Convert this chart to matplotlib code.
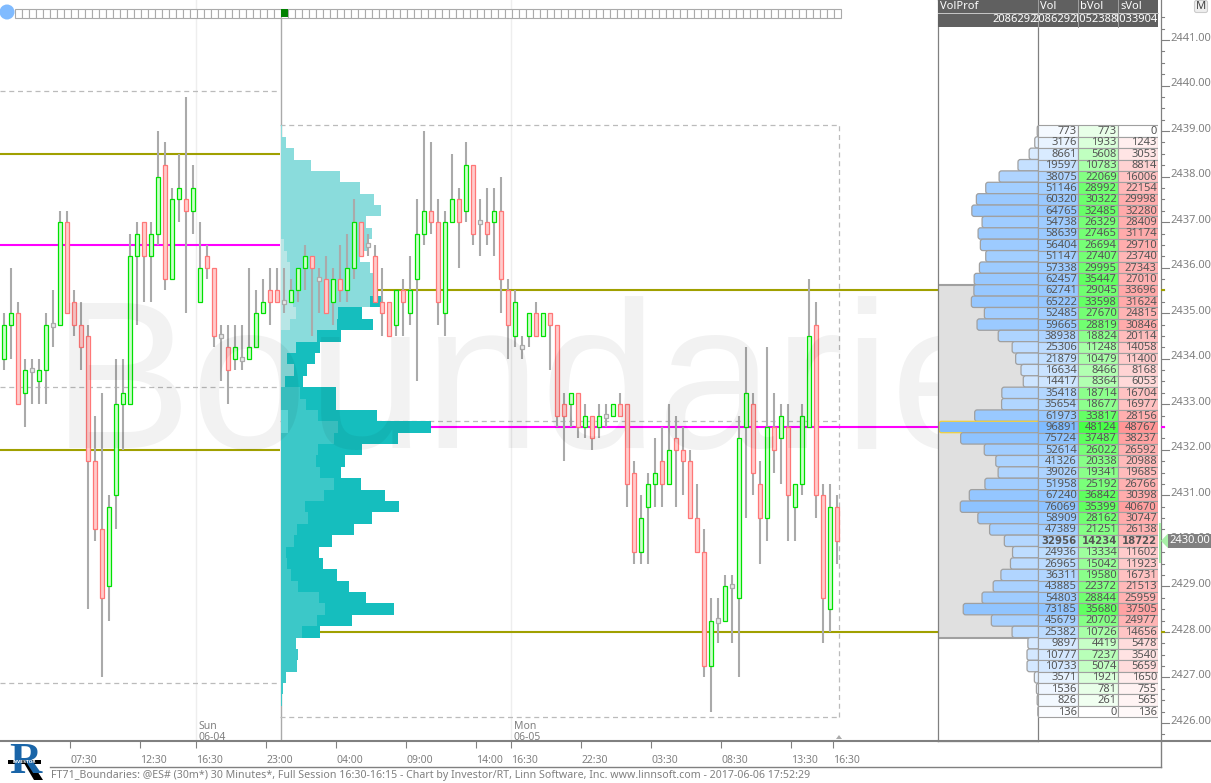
import numpy as np
import matplotlib
matplotlib.use("Agg")
import matplotlib.pyplot as plt
from matplotlib.patches import FancyBboxPatch, Rectangle, Circle, Polygon

plt.rcParams['font.family'] = ['Noto Sans', 'DejaVu Sans']

# candles, one per 30 minutes
opens = [2434, 2434.75, 2435, 2433.25, 2433.75, 2433.5, 2433.75, 2434.75, 2434.75, 2437,
         2435.25, 2434.75, 2434.5, 2431.75, 2430.25, 2429, 2431, 2433, 2433, 2436.25,
         2437, 2436.25, 2436.75, 2438.25, 2435.75, 2437.5, 2437.5, 2437.25, 2435.25, 2436.25,
         2436, 2434.5, 2434.25, 2434, 2434, 2434, 2434.25, 2435, 2435.5, 2435.5,
         2435.25, 2435.25, 2435.5, 2436, 2436.25, 2435.75, 2435.75, 2435.25, 2435.75, 2435.5,
         2436, 2437, 2436.5, 2436.25, 2435.25, 2435.25, 2434.75, 2435.5, 2435, 2435.75,
         2436.75, 2437.25, 2437, 2435, 2437, 2437.5, 2437.25, 2438.25, 2437, 2437,
         2437, 2437.25, 2435.5, 2434.5, 2434.25, 2434.5, 2435, 2434.5, 2435, 2434.75,
         2433, 2433, 2433.25, 2432.5, 2432.75, 2432.5, 2432.75, 2432.75, 2433, 2433,
         2431.5, 2429.75, 2430.75, 2431.25, 2431.75, 2431.25, 2432.25, 2432, 2431.75, 2430.5,
         2429.75, 2427.25, 2428.25, 2428.25, 2429, 2428.75, 2432.5, 2433, 2431.25, 2430.5,
         2432.5, 2432.25, 2432.5, 2430.75, 2431.25, 2432.5, 2434.75, 2431, 2428.5, 2430.75]
highs = [2435, 2436, 2435.25, 2434, 2434, 2434, 2435, 2435.5, 2437.25, 2437.25,
         2435.5, 2435.25, 2434.75, 2432.75, 2433.25, 2431, 2434, 2434, 2436.75, 2437,
         2437, 2437, 2439, 2438.75, 2437.75, 2438.5, 2439.75, 2438.25, 2437, 2436.5,
         2436, 2434.75, 2434.75, 2434.75, 2434.75, 2436, 2435.5, 2435.75, 2436, 2436,
         2436, 2435.75, 2436, 2436.5, 2436.25, 2436, 2436.25, 2436, 2436.5, 2436.75,
         2437.5, 2437, 2436.75, 2436.5, 2436, 2435.25, 2435.5, 2435.75, 2436.25, 2437.5,
         2439, 2438.75, 2437.5, 2437.25, 2438.5, 2437.75, 2438.75, 2438.25, 2437.5, 2437.75,
         2437.75, 2438, 2435.75, 2435.5, 2434.5, 2435, 2435.25, 2435, 2435, 2434.75,
         2433.25, 2433.25, 2433.25, 2433, 2432.75, 2433, 2433, 2433, 2433.25, 2433,
         2431.75, 2431, 2431.5, 2432.25, 2432.5, 2433, 2432.75, 2432.5, 2432, 2431.25,
         2430.25, 2428.75, 2428.75, 2429.25, 2429.25, 2432.75, 2434.25, 2433.25, 2431.75, 2434.25,
         2433.25, 2433, 2433, 2431.25, 2433, 2435.75, 2435.25, 2431.25, 2431.25, 2431]
lows = [2433.75, 2434, 2433, 2432.5, 2433, 2433, 2433, 2434.25, 2434.75, 2435,
        2434.5, 2433.75, 2428.5, 2430, 2427, 2428.25, 2430.25, 2432, 2433, 2434.75,
        2435.25, 2435.25, 2436.5, 2435.5, 2435.75, 2437, 2435, 2436.75, 2435.25, 2435.75,
        2434.25, 2433.5, 2433, 2433.75, 2433.75, 2434, 2434.25, 2435, 2434.75, 2435.25,
        2435, 2435.25, 2435.25, 2435.5, 2434.5, 2435, 2435, 2434.75, 2435.25, 2435.25,
        2435.75, 2436.25, 2436.25, 2435.25, 2434.5, 2434.5, 2434.5, 2434.5, 2434.75, 2433.5,
        2436.5, 2436.75, 2434.75, 2434.5, 2437, 2436, 2437, 2436.5, 2436.25, 2436.5,
        2436.25, 2435, 2434, 2434.25, 2434, 2434.25, 2434.5, 2434.5, 2433.75, 2432.5,
        2431.75, 2432.5, 2432.25, 2432.25, 2432, 2432.25, 2432.5, 2432.75, 2432.75, 2430.75,
        2429.5, 2429.5, 2429.5, 2430.75, 2430.75, 2431.25, 2430.75, 2431, 2430.5, 2429.75,
        2427, 2426.25, 2427.75, 2428.25, 2427.75, 2427, 2430.5, 2431, 2429.5, 2430,
        2431.5, 2431.25, 2430, 2430, 2431, 2432.5, 2430.5, 2427.75, 2428, 2429.5]
closes = [2434.75, 2435, 2433, 2433.75, 2433.75, 2433.75, 2434.75, 2434.75, 2437, 2435,
          2434.75, 2434.25, 2431.75, 2430.25, 2428.75, 2430.75, 2433, 2433.25, 2436.25, 2436.75,
          2436.25, 2436.75, 2438, 2435.75, 2437.5, 2437.75, 2437.25, 2437.75, 2436, 2436,
          2434.5, 2434.5, 2433.75, 2434.25, 2434, 2434.25, 2435, 2435.25, 2435.25, 2435.25,
          2435.25, 2435.5, 2436, 2436.25, 2436, 2435.75, 2435, 2435.75, 2435.5, 2436,
          2437, 2436.25, 2436.5, 2435.25, 2435, 2434.5, 2435.5, 2435.25, 2435.5, 2436.75,
          2437.25, 2437, 2435.25, 2437, 2437.5, 2437, 2438.25, 2436.75, 2437, 2436.75,
          2437.25, 2435.75, 2434.75, 2435.25, 2434.25, 2435, 2434.5, 2435, 2434.75, 2432.75,
          2432.75, 2433.25, 2432.5, 2432.75, 2432.25, 2432.75, 2432.75, 2433, 2432.75, 2431.25,
          2429.75, 2430.5, 2431.25, 2431.5, 2431.25, 2432, 2432, 2431.75, 2430.5, 2429.75,
          2427.25, 2428.25, 2428.25, 2429, 2429, 2432.25, 2433.25, 2431.5, 2430.5, 2432.5,
          2432, 2432.75, 2431, 2431.25, 2432.75, 2434.5, 2431, 2428.75, 2430.75, 2430]

# volume profile rows, top row first
vol = [773, 3176, 8661, 19597, 38075, 51146, 60320, 64765, 54738, 58639, 56404, 51147, 57338,
       62457, 62741, 65222, 52485, 59665, 38938, 25306, 21879, 16634, 14417, 35418, 35654, 61973,
       96891, 75724, 52614, 41326, 39026, 51958, 67240, 76069, 58909, 47389, 32956, 24936, 26965,
       36311, 43885, 54803, 73185, 45679, 25382, 9897, 10777, 10733, 3571, 1536, 826, 136]
bvol = [773, 1933, 5608, 10783, 22069, 28992, 30322, 32485, 26329, 27465, 26694, 27407, 29995,
        35447, 29045, 33598, 27670, 28819, 18824, 11248, 10479, 8466, 8364, 18714, 18677, 33817,
        48124, 37487, 26022, 20338, 19341, 25192, 36842, 35399, 28162, 21251, 14234, 13334, 15042,
        19580, 22372, 28844, 35680, 20702, 10726, 4419, 7237, 5074, 1921, 781, 261, 0]
svol = [0, 1243, 3053, 8814, 16006, 22154, 29998, 32280, 28409, 31174, 29710, 23740, 27343,
        27010, 33696, 31624, 24815, 30846, 20114, 14058, 11400, 8168, 6053, 16704, 16977, 28156,
        48767, 38237, 26592, 20988, 19685, 26766, 30398, 40670, 30747, 26138, 18722, 11602, 11923,
        16731, 21513, 25959, 37505, 24977, 14656, 5478, 3540, 5659, 1650, 755, 565, 136]
top_row_price = 2439.0
row_size = 0.25

# inner layers of the overlay profile on the chart, same rows
inner_vol = [0, 0, 0, 0, 0, 0, 0, 0, 0, 0, 0, 0, 0,
             0, 0, 57500, 36800, 36200, 23300, 9700, 3900, 8400, 2800, 12300, 16000, 23900,
             36800, 34200, 23900, 22600, 25200, 34200, 27800, 15500, 17400, 10300, 8400, 3200, 3900,
             6500, 11000, 24500, 28400, 23300, 13600, 7800, 0, 0, 0, 0, 0, 0]
pale_vol = [0, 0, 0, 0, 0, 0, 0, 0, 0, 0, 1900, 3900, 5800,
            5800, 5800, 7800, 9700, 5800, 0, 0, 0, 0, 0, 0, 0, 4500,
            4500, 0, 0, 0, 0, 0, 0, 0, 0, 0, 0, 0, 0,
            0, 0, 0, 0, 0, 0, 0, 0, 0, 0, 0, 0, 0]

vol_total = 2086292
bvol_total = 1052388
svol_total = 1033904

xtick_pos = [9.5, 19.5, 27.5, 37.5, 47.5, 57.5, 67.5, 72.5, 82.5, 92.5, 102.5, 112.5, 118.5]
xtick_lab = ['07:30', '12:30', '16:30', '23:00', '04:00', '09:00', '14:00',
             '16:30', '22:30', '03:30', '08:30', '13:30', '16:30']
sessions = [27.5, 72.5]
session_lab = ['Sun\n06-04', 'Mon\n06-05']
break_bar = 39.5
last_bar = 119.3

# session levels
old_high, old_low, old_mid = 2439.875, 2426.875, 2433.375
new_high, new_low, new_mid = 2439.125, 2426.125, 2432.625
old_vah, old_poc, old_val = 2438.5, 2436.5, 2432.0
new_vah, new_poc, new_val = 2435.5, 2432.5, 2428.0
va_top, va_bot = 2435.625, 2427.875
last_price = 2430.0

OLIVE = '#a0a000'
MAGENTA = '#ff00ff'
GRAY = '#808080'
W, H = 1211, 783


def panel(fig, x0, x1, y0=0, y1=741):
    return fig.add_axes([x0 / W, 1 - y1 / H, (x1 - x0) / W, (y1 - y0) / H])


def mix(ch_min, frac):
    return 255 - (255 - ch_min) * np.sqrt(frac)


fig = plt.figure(figsize=(W / 100, H / 100), dpi=100)

# price scale, 45.53 px per point
ylim = (2441 - (741 - 40) / 45.53, 2441 + 40 / 45.53)

# ---------------------------------------------
# main chart
ax = panel(fig, 0, 938)
ax.set_ylim(ylim)
ax.set_xlim(-4 / 7, (938 - 4) / 7)
ax.set_yticks([])
for s in ['top', 'left', 'right']:
    ax.spines[s].set_visible(False)
ax.spines['bottom'].set_color(GRAY)
ax.spines['bottom'].set_linewidth(1.5)
ax.set_xticks(xtick_pos, xtick_lab, fontsize=7.5, color=GRAY, ha='left')
ax.tick_params(axis='x', length=5, width=0.8, color=GRAY, pad=5)

for s in sessions:
    ax.axvline(s, color='#eeeeee', lw=1, zorder=0)
for s, lab in zip(sessions, session_lab):
    ax.text(s + 0.3, ylim[0] - 0.05, lab, fontsize=7.5, color=GRAY, va='bottom', linespacing=1.05)
ax.plot([break_bar + 0.05] * 2, [ylim[0], 2441.6], color='#aaaaaa', lw=1, zorder=1)

# dashed session boxes
dash = dict(color='#bbbbbb', lw=0.9, ls=(0, (4, 3)), zorder=1)
for y in [old_high, old_low, old_mid]:
    ax.plot([-4 / 7, break_bar], [y, y], **dash)
for y in [new_high, new_low, new_mid]:
    ax.plot([break_bar, last_bar], [y, y], **dash)
ax.plot([last_bar, last_bar], [new_low, new_high], **dash)

# overlay profile
rows = top_row_price - np.arange(len(vol)) * row_size
bars_per_vol = (150 / 7) / max(vol)
outer_cols = ['#8adcdc' if i <= 14 else '#15bebe' if i <= 44 else '#3cc8c8' for i in range(len(vol))]
inner_cols = ['#8adcdc' if i <= 22 else '#3cc8c8' for i in range(len(vol))]
pale_cols = ['#b8e6e6' if i <= 17 else '#60e0e0' for i in range(len(vol))]
ax.barh(rows, np.array(vol) * bars_per_vol, row_size, left=break_bar + 0.05, color=outer_cols, lw=0, zorder=2)
ax.barh(rows, np.array(inner_vol) * bars_per_vol, row_size, left=break_bar + 0.05, color=inner_cols, lw=0, zorder=2.1)
ax.barh(rows, np.array(pale_vol) * bars_per_vol, row_size, left=break_bar + 0.05, color=pale_cols, lw=0, zorder=2.2)

# key levels
ax.hlines([old_vah, old_val], -4 / 7, break_bar, color=OLIVE, lw=1.5, zorder=1.5)
ax.hlines(old_poc, -4 / 7, break_bar, color=MAGENTA, lw=1.5, zorder=1.5)
xmax = ax.get_xlim()[1]
for lev, col in [(new_vah, OLIVE), (new_poc, MAGENTA), (new_val, OLIVE)]:
    i = int(round((top_row_price - lev) / row_size))
    ax.hlines(lev, break_bar + vol[i] * bars_per_vol, xmax, color=col, lw=1.5, zorder=1.5)

# candles
idx = np.arange(len(opens))
o, h, l, c = map(np.array, (opens, highs, lows, closes))
ax.vlines(idx, l, h, color='#aaaaaa', lw=1.5, zorder=3)
up = c > o
down = c < o
flat = c == o
bw = 0.43
ax.bar(idx[up], (c - o)[up], bw, bottom=o[up], facecolor='#ccffcc', edgecolor='#00e000', lw=0.9, zorder=4)
ax.bar(idx[down], (o - c)[down], bw, bottom=c[down], facecolor='#ffcccc', edgecolor='#ff7777', lw=0.9, zorder=4)
ax.bar(idx[flat], 0.09, bw, bottom=o[flat] - 0.045, facecolor='#e8e8e8', edgecolor='#aaaaaa', lw=0.9, zorder=4)

# watermark
ax.text(52 / 7 - 4 / 7, 2432.04, 'Boundaries', family='Liberation Sans', fontsize=151, color='k',
        alpha=0.05, va='baseline', ha='left', zorder=6, clip_on=True)

# ---------------------------------------------
# VolProf column
ax_p = panel(fig, 938, 1038)
ax_p.set_ylim(ylim)
px = max(vol) / 99
ax_p.set_xlim(100 * px, 0)
ax_p.set_xticks([])
ax_p.set_yticks([])
for s in ax_p.spines.values():
    s.set_color(GRAY)
    s.set_linewidth(0.9)
ax_p.add_patch(Rectangle((0, va_bot), 100 * px, va_top - va_bot, fc='#e0e0e0', ec='none', zorder=1))
ax_p.hlines([va_top, va_bot], 0, 100 * px, color='#a0a0a0', lw=1.5, zorder=1.5)
per_y = (ylim[1] - ylim[0]) / 741
for i, v in enumerate(vol):
    r = mix(127, v / max(vol))
    g = mix(187, v / max(vol))
    edge = '#f0d040' if v == max(vol) else '#a0a0a0'
    ax_p.add_patch(FancyBboxPatch((-4 * px, rows[i] - row_size / 2), v + 4 * px, row_size,
                                  boxstyle='round,pad=0,rounding_size=%f' % (2.5 * px),
                                  mutation_aspect=per_y / px,
                                  fc=(r / 255, g / 255, 1), ec=edge, lw=0.9, zorder=2))

# table columns
ax_t = panel(fig, 1038, 1158)
ax_t.set_ylim(ylim)
ax_t.set_xlim(0, 3)
ax_t.axis('off')
for i in range(len(vol)):
    blue = mix(127, vol[i] / max(vol))
    blue2 = mix(187, vol[i] / max(vol))
    gr = mix(70, bvol[i] / max(svol))
    rd = mix(150, svol[i] / max(svol))
    cols = [(blue / 255, blue2 / 255, 1), (gr / 255, 1, gr / 255), (1, rd / 255, rd / 255)]
    for j, val in enumerate([vol[i], bvol[i], svol[i]]):
        ax_t.add_patch(Rectangle((j, rows[i] - row_size / 2), 1, row_size, fc=cols[j], ec='#a0a0a0', lw=0.8))
        if rows[i] == last_price:
            ax_t.text(j + 0.97, rows[i] - 0.01, str(val), ha='right', va='center', fontsize=7.3,
                      family='DejaVu Sans', weight='bold', color='#555555')
        else:
            ax_t.text(j + 0.97, rows[i] - 0.01, str(val), ha='right', va='center', fontsize=8, color='#555555')

# ---------------------------------------------
# price axis
ax_y = panel(fig, 1161, 1211)
ax_y.set_ylim(ylim)
ax_y.set_xlim(0, 50)
ax_y.set_xticks([])
ax_y.set_yticks([])
for s in ['top', 'bottom', 'right']:
    ax_y.spines[s].set_visible(False)
ax_y.spines['left'].set_color(GRAY)
ax_y.spines['left'].set_linewidth(0.9)
for t in np.arange(2425.75, 2441.75, 0.25):
    ax_y.plot([0, 8 if t == int(t) else 3], [t, t], color=GRAY, lw=0.8, zorder=3)
for p in np.arange(2426, 2442):
    ax_y.text(9.5, p - 0.08, '%.2f' % p, fontsize=8, color=GRAY, va='bottom', ha='left')
ax_y.plot([0, 3], [new_vah, new_vah], color=OLIVE, lw=1.5, zorder=4)
ax_y.plot([0, 3], [new_val, new_val], color=OLIVE, lw=1.5, zorder=4)
ax_y.plot([0, 3], [new_poc, new_poc], color=MAGENTA, lw=1.5, zorder=4)
ax_y.text(8.5, last_price, '%.2f' % last_price, fontsize=8, color='white', va='center', ha='left', zorder=6,
          bbox=dict(fc=GRAY, ec='none', pad=1))
ax_y.add_patch(Polygon([[0, last_price], [7, last_price + 0.16], [7, last_price - 0.16]], fc='#a8f0a8', ec='none', zorder=5))

# ---------------------------------------------
# screen furniture, in pixels of the picture
ui = fig.add_axes([0, 0, 1, 1], zorder=10)
ui.set_xlim(0, W)
ui.set_ylim(H, 0)
ui.axis('off')
ui.patch.set_alpha(0)

# bar slider at the top
for k in range(118):
    x = 14.5 + 7 * k
    ui.add_patch(Rectangle((x, 8.5), 7, 9, fc='white', ec='#aaaaaa', lw=0.8))
ui.add_patch(Rectangle((281, 9), 6.5, 8, fc='#008000', ec='none'))
ui.add_patch(Circle((7, 12), 7.5, fc='#80bbff', ec='none'))

# header over the table
ui.add_patch(Rectangle((938, 0), 220, 26.5, fc='#606060', ec='none'))
ui.plot([938, 1158], [13.2, 13.2], color='#c8c8c8', lw=0.7)
edges = [938, 1038, 1078, 1118, 1158]
heads = ['VolProf', 'Vol', 'bVol', 'sVol']
totals = [vol_total, vol_total, bvol_total, svol_total]
for k in range(4):
    if k:
        ui.plot([edges[k], edges[k]], [0, 26.5], color='#a0a0a0', lw=0.7)
    ui.text(edges[k] + 2, 6.5, heads[k], fontsize=8, color='white', va='center', ha='left')
    t = ui.text(edges[k + 1] - 1, 20, str(totals[k]), fontsize=8, color='white', va='center', ha='right')
    t.set_clip_path(Rectangle((edges[k], 13), edges[k + 1] - edges[k], 14, transform=ui.transData))

# M button
ui.add_patch(FancyBboxPatch((1196, 2), 10, 9, boxstyle='round,pad=1.5,rounding_size=2', fc='#eeeeee', ec='#cccccc', lw=0.8))
ui.text(1201, 6.5, 'M', fontsize=8, color='#444444', ha='center', va='center')

# last price strip and end marker
ui.add_patch(Rectangle((1159, 523), 2, 40, fc='#a8f0a8', ec='none'))
ui.add_patch(Polygon([[839, 735], [836, 739], [842, 739]], fc='#aaaaaa', ec='none'))

# bottom rules
ui.plot([938, W], [741, 741], color=GRAY, lw=1.5)
ui.plot([50, 1161], [766.5, 766.5], color=GRAY, lw=1)
ui.plot([1161, 1161], [741, 766.5], color=GRAY, lw=1)
ui.text(51, 775.5, 'FT71_Boundaries: @ES# (30m*) 30 Minutes*, Full Session 16:30-16:15 - Chart by Investor/RT, '
        'Linn Software, Inc. www.linnsoft.com - 2017-06-06 17:52:29', fontsize=7.65, color=GRAY, va='center', ha='left')

# logo
ui.text(25, 762, 'R', family='Liberation Serif', weight='bold', fontsize=32, color='#1a65a8', ha='center', va='center')
ui.add_patch(Polygon([[24, 763], [32, 763], [43, 780], [34, 780]], fc='black', ec='none'))
ui.add_patch(Rectangle((8, 759.5), 33, 4.5, fc='black', ec='none'))
ui.text(24.5, 761.7, 'INVESTOR', family='DejaVu Sans', weight='bold', fontsize=3, color='white', ha='center', va='center')

fig.savefig('out.png', dpi=100)
